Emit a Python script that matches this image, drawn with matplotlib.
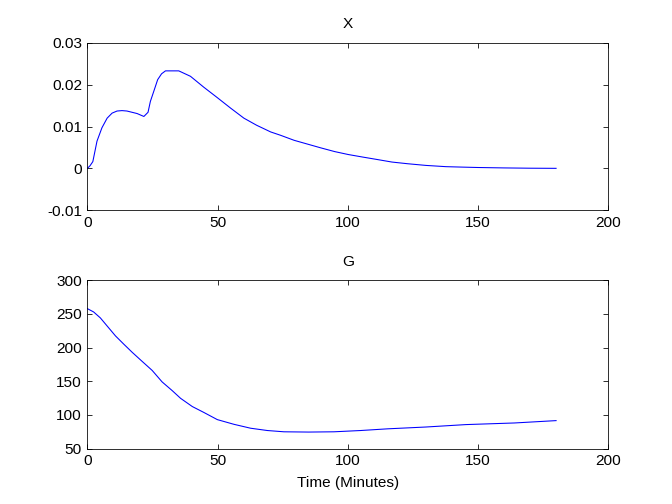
import matplotlib
matplotlib.use("Agg")
import matplotlib.pyplot as plt

# values (time in minutes)
x_time = [0, 1, 2.1, 3.7, 5.6, 7.6, 9.5, 11.4, 13.3, 15.2, 19.1, 21.7, 23.3, 24.2,
          25.5, 27, 28.5, 30, 35.1, 39.6, 44.7, 49.9, 55, 60.1, 65, 70.4, 74.2,
          79.4, 84.5, 89.6, 95, 100.2, 105.7, 111.4, 117, 123, 130, 137.7, 143.5,
          149.9, 160, 170, 180]
x_vals = [0.0, 0.0006, 0.0016, 0.0065, 0.0097, 0.0120, 0.0132, 0.0137, 0.0138,
          0.0137, 0.0131, 0.0124, 0.0134, 0.0160, 0.0184, 0.0212, 0.0226, 0.0233,
          0.0233, 0.0220, 0.0194, 0.0169, 0.0144, 0.0120, 0.0103, 0.0087, 0.0079,
          0.0067, 0.0058, 0.0049, 0.0040, 0.0033, 0.0027, 0.0021, 0.0015, 0.0011,
          0.0007, 0.0004, 0.0003, 0.0002, 0.0001, 0.00003, 0.0]

g_time = [0, 2.4, 5.0, 7.6, 10.8, 14, 17.2, 20.4, 24.9, 28.7, 32.6, 35.8, 40.3,
          44.7, 49.9, 56.3, 62.7, 69.1, 75.5, 85, 94.7, 105, 115.3, 130, 145.4,
          164, 180]
g_vals = [257.8, 252.9, 244, 232, 217.3, 205, 193, 181.7, 166, 149, 136, 124.6,
          112.4, 103.7, 93, 86, 80.2, 76.8, 74.9, 74.5, 74.9, 76.8, 79.3, 82, 85.6,
          88, 91.5]

plt.rcParams['font.family'] = ['Liberation Sans', 'DejaVu Sans']
plt.rcParams['font.size'] = 11.5

fig = plt.figure(figsize=(7, 5.25), dpi=96)
ax1 = fig.add_axes([0.13, 0.583, 0.775, 0.332])
ax2 = fig.add_axes([0.13, 0.11, 0.775, 0.334])

for ax, t, v, title, ylim, yticks in [
        (ax1, x_time, x_vals, 'X', (-0.01, 0.03), [-0.01, 0, 0.01, 0.02, 0.03]),
        (ax2, g_time, g_vals, 'G', (50, 300), [50, 100, 150, 200, 250, 300])]:
    ax.plot(t, v, color='#0000ff', linewidth=0.8)
    ax.set_xlim(0, 200)
    ax.set_ylim(*ylim)
    ax.set_xticks([0, 50, 100, 150, 200])
    ax.set_yticks(yticks)
    ax.set_title(title, fontsize=11.5, pad=11)
    ax.tick_params(direction='in', top=True, right=True, length=4, width=0.6, pad=4)
    for sp in ax.spines.values():
        sp.set_linewidth(0.6)

ax1.set_yticklabels(['-0.01', '0', '0.01', '0.02', '0.03'])
ax2.set_xlabel('Time (Minutes)', labelpad=6)

fig.savefig('out.png', dpi=96, facecolor='white')
